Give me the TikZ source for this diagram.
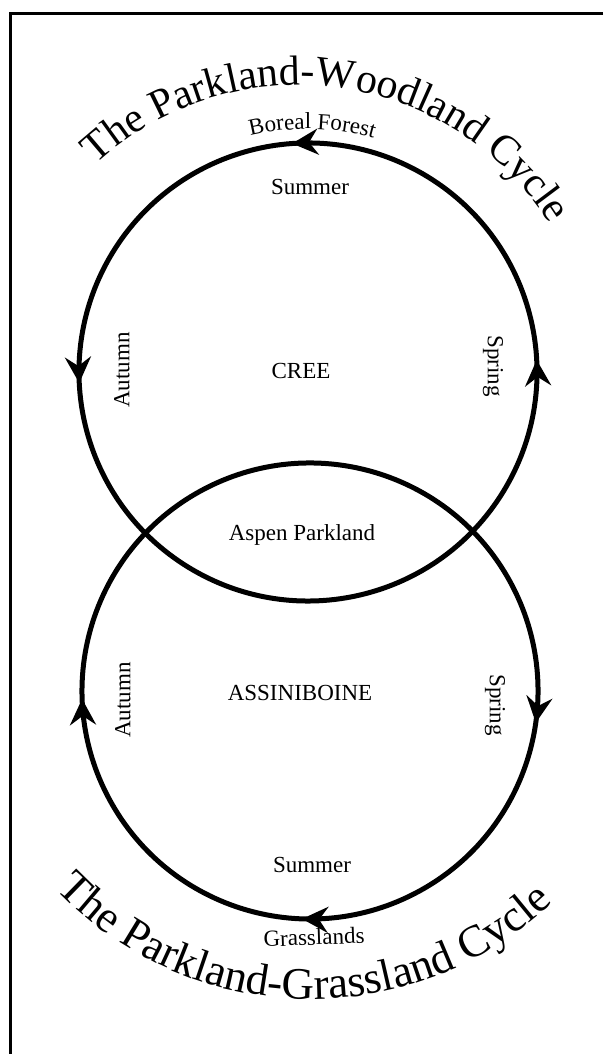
\documentclass[tikz,border=0pt]{standalone}
\usepackage{fontspec}
\setmainfont{Liberation Serif}
\usetikzlibrary{arrows.meta,decorations.markings,decorations.text}
\newcommand\ttlfnt{\fontsize{42}{42}\selectfont}
\newcommand\ttlfntb{\fontsize{45}{45}\selectfont}
\newcommand\lblfnt{\fontsize{23}{23}\selectfont}
\begin{document}
\begin{tikzpicture}[x=1pt,y=1pt,
  cyc/.style={line width=5pt},
  lbl/.style={font=\lblfnt, inner sep=0pt},
  frame/.style={line width=3pt},
  arctext/.style={decorate, decoration={text along path, text align=center, text={#1}}}
]
\useasboundingbox (0,0) rectangle (603,1054);
% frame (only top and left edges visible)
\coordinate (fa) at (603,1040.5);
\coordinate (fb) at (10.5,1040.5);
\coordinate (fc) at (10.5,0);
\draw[frame] (fa) -- (fb) -- (fc);
% circle centres
\coordinate (ctop) at (308,682);
\coordinate (cbot) at (310,363);
% centres of the title arcs
\coordinate (ttop) at (298,672);
\coordinate (tbot) at (311,406);
% top circle (counter-clockwise)
\draw[cyc, decoration={markings,
    mark=at position 0.0917 with {\arrow{Stealth[length=26pt,width=26pt,inset=9pt]}},
    mark=at position 0.3444 with {\arrow{Stealth[length=26pt,width=26pt,inset=9pt]}},
    mark=at position 0.5910 with {\arrow{Stealth[length=26pt,width=26pt,inset=9pt]}}},
  postaction={decorate}]
  (ctop) ++(-30:229) arc[start angle=-30, end angle=330, radius=229];
% bottom circle (clockwise)
\draw[cyc, decoration={markings,
    mark=at position 0.1056 with {\arrow{Stealth[length=26pt,width=26pt,inset=9pt]}},
    mark=at position 0.3389 with {\arrow{Stealth[length=26pt,width=26pt,inset=9pt]}},
    mark=at position 0.5778 with {\arrow{Stealth[length=26pt,width=26pt,inset=9pt]}}},
  postaction={decorate}]
  (cbot) ++(30:228) arc[start angle=30, end angle=-330, radius=228];
% titles
\path[arctext={|\ttlfnt|The Parkland-Woodland Cycle}]
  (ttop) ++(160:297) arc[start angle=160, end angle=5, radius=297];
\path[arctext={|\ttlfntb|The Parkland-Grassland Cycle}]
  (tbot) ++(180:351) arc[start angle=180, end angle=357, radius=351];
% curved place label
\path[arctext={|\lblfnt|Boreal Forest}]
  (ctop) ++(119:243) arc[start angle=119, end angle=59, radius=243];
% labels
\node[lbl, rotate=2] (grass) at (314,117) {Grasslands};
\node[lbl] (summerT) at (310,867) {Summer};
\node[lbl] (cree) at (301,683) {CREE};
\node[lbl, rotate=90] (autumnT) at (122,684) {Autumn};
\node[lbl, rotate=-90] (springT) at (493,688) {Spring};
\node[lbl] (aspen) at (302,519) {Aspen Parkland};
\node[lbl] (assin) at (300,361) {ASSINIBOINE};
\node[lbl, rotate=90] (autumnB) at (123,354) {Autumn};
\node[lbl, rotate=-90] (springB) at (495,349) {Spring};
\node[lbl] (summerB) at (312,189) {Summer};
\end{tikzpicture}
\end{document}
